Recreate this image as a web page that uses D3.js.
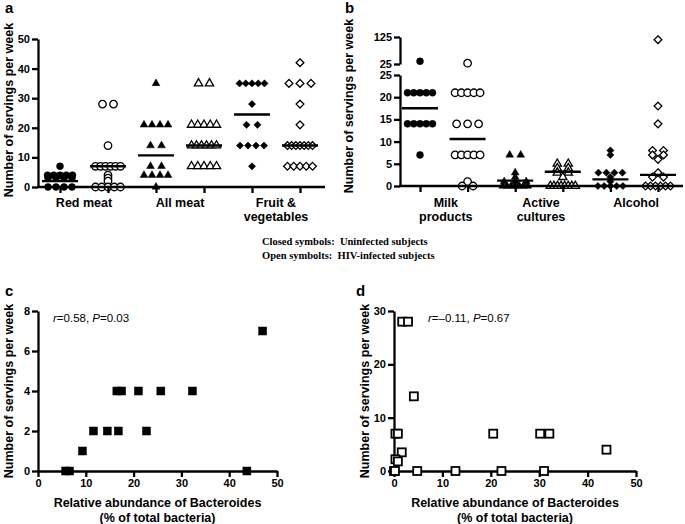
<!DOCTYPE html>
<html><head><meta charset="utf-8">
<script src="https://cdn.jsdelivr.net/npm/d3@7"></script>
<style>
body{margin:0;background:#fff;}
svg{display:block;font-family:"Liberation Sans",Arial,sans-serif;}
.tick text{font-weight:bold;font-size:11px;fill:#000;}
</style></head>
<body><svg id="c" width="685" height="524"></svg>
<script>
// ---------- DATA ----------
// Panel a
const aGroups = ["redU","redH","allU","allH","fvU","fvH"];
const aCategories = [["Red meat"],["All meat"],["Fruit &","vegetables"]];
const redMeatU = [7,4,4,4,4,4,3,3,3,3,0,0,0,0];
const redMeatH = [28,28,14,7,7,7,7,7,7,4,3,2,0,0,0,0,0];
const allMeatU = [35,21,21,21,21,14,14,7,7,4,4,4,4,0];
const allMeatH = [35,35,21,21,21,21,21,14,14,14,14,14,14,7,7,7,7,7];
const fruitVegU = [35,35,35,35,35,28,21,21,14,14,14,14,7];
const fruitVegH = [42,35,35,35,28,21,14,14,14,14,14,14,14,7,7,7,7,7];
const aMeans = [2,7,10.7,14,24.5,14];
const aTicks = [0,10,20,30,40,50];
// Panel b
const bGroups = ["milkU","milkH","actU","actH","alcU","alcH"];
const bCategories = [["Milk","products"],["Active","cultures"],["Alcohol"]];
const milkU = [35,21,21,21,21,21,14,14,14,14,14,7];
const milkH = [28,21,21,21,21,21,14,14,14,7,7,7,7,7,1,0,0];
const activeU = [7,7,3,2,1,1,1,0,0,0,0,0,0,0];
const activeH = [5,5,4,4,3,3,2,0,0,0,0,0,0,0,0];
const alcoholU = [8,7,3,3,3,3,2,1,0,0,0,0,0];
const alcoholH = [115,18,14,8,8,7,7,6,3,2,2,0,0,0,0,0,0];
const bMeans = [17.5,10.6,1.2,3.2,1.5,2.5];
const bTicksLow = [0,5,10,15,20,25];
const bTicksHigh = [25,125];
// Panel c (uninfected)
const cBacteroides = [5.8,6.6,9.3,11.6,14.5,16.8,16.5,17.5,21,22.7,25.7,32.3,43.7,47];
const cServings =    [0,  0,  1,  2,   2,   2,   4,   4,   4, 2,   4,   4,   0,   7];
// Panel d (HIV-infected)
const dBacteroides = [1.7,2.9,4.1,0.3,0.8,1.6,0.3,0.8,0,0.2,4.8,12.7,22.2,31,20.5,30.2,32.1,43.9];
const dServings =    [28, 28, 14, 7,  7,  3.5,2.2,1.8,0,0,  0,  0,   0,   0, 7,   7,   7,   4];
const cTicksX = [0,10,20,30,40,50], cTicksY = [0,2,4,6,8];
const dTicksX = [0,10,20,30,40,50], dTicksY = [0,10,20,30];

// ---------- DRAW ----------
const svg = d3.select("#c");
svg.append("rect").attr("width",685).attr("height",524).attr("fill","#fff");
const AX = 2.3;

const diamond = {draw(ctx,size){const r=Math.sqrt(size/2);ctx.moveTo(0,-r);ctx.lineTo(r,0);ctx.lineTo(0,r);ctx.lineTo(-r,0);ctx.closePath();}};
const shapes = {
  circleF:{type:d3.symbolCircle,size:38,fill:"#000"},
  circleO:{type:d3.symbolCircle,size:44,fill:"#fff"},
  triF:{type:d3.symbolTriangle,size:26,fill:"#000"},
  triO:{type:d3.symbolTriangle,size:30,fill:"#fff"},
  diaF:{type:diamond,size:26,fill:"#000"},
  diaO:{type:diamond,size:30,fill:"#fff"}
};

function spread(values, cx){
  const out=[];
  for(const [v,arr] of d3.group(values,v=>v)){
    const n=arr.length;
    const sp = n<=3 ? 11 : Math.min(8, 25/(n-1));
    arr.forEach((_,i)=>out.push({v, x: cx+(i-(n-1)/2)*sp}));
  }
  return out;
}
function drawGroup(g, values, cx, yf, shape){
  const s=shapes[shape];
  g.selectAll(null).data(spread(values,cx)).enter().append("path")
    .attr("d", d3.symbol().type(s.type).size(s.size)())
    .attr("transform", d=>`translate(${d.x},${yf(d.v)})`)
    .attr("fill", s.fill).attr("stroke","#000").attr("stroke-width", s.fill==="#fff"?1.3:0.5);
}
function styleAxis(sel){
  sel.selectAll("path.domain").attr("stroke","#000").attr("stroke-width",AX);
  sel.selectAll(".tick line").attr("stroke","#000").attr("stroke-width",AX);
}
function yTitle(x,y,txt){
  svg.append("text").attr("transform",`translate(${x},${y}) rotate(-90)`).attr("text-anchor","middle")
    .attr("font-weight","bold").attr("font-size","12.5px").text(txt);
}
function panelLabel(x,y,t){
  svg.append("text").attr("x",x).attr("y",y).attr("font-weight","bold").attr("font-size","15px").text(t);
}
function catLabels(centers, cats){
  cats.forEach((lines,i)=>{
    lines.forEach((l,j)=>svg.append("text").attr("x",centers[i]).attr("y",207+j*13.5)
      .attr("text-anchor","middle").attr("font-weight","bold").attr("font-size","12.5px").text(l));
  });
}

// ---- Panel a ----
{
  const y = d3.scaleLinear().domain([0,50]).range([187,39]);
  const x = d3.scalePoint().domain(aGroups).range([60,300]);
  const g = svg.append("g");
  const ya = svg.append("g").attr("transform","translate(38,0)")
    .call(d3.axisLeft(y).tickValues(aTicks).tickSize(6).tickSizeOuter(0).tickPadding(2));
  styleAxis(ya);
  svg.append("line").attr("x1",37).attr("x2",325).attr("y1",187).attr("y2",187).attr("stroke","#000").attr("stroke-width",AX);
  const xa = svg.append("g").attr("transform","translate(0,187)")
    .call(d3.axisBottom(x).tickSize(6).tickFormat(""));
  xa.select(".domain").remove(); styleAxis(xa);
  const sets=[redMeatU,redMeatH,allMeatU,allMeatH,fruitVegU,fruitVegH];
  const sh=["circleF","circleO","triF","triO","diaF","diaO"];
  sets.forEach((s,i)=>drawGroup(g,s,x(aGroups[i]),y,sh[i]));
  g.selectAll(null).data(aMeans).enter().append("line")
    .attr("x1",(d,i)=>x(aGroups[i])-18).attr("x2",(d,i)=>x(aGroups[i])+18)
    .attr("y1",d=>y(d)).attr("y2",d=>y(d)).attr("stroke","#000").attr("stroke-width",2.4);
  catLabels([0,2,4].map(i=>(x(aGroups[i])+x(aGroups[i+1]))/2), aCategories);
  yTitle(13,110,"Number of servings per week");
  panelLabel(5,13,"a");
}
// ---- Panel b ----
{
  const yl = d3.scaleLinear().domain([0,25]).range([186,75]);
  const yh = d3.scaleLinear().domain([25,125]).range([64,37]);
  const yf = v => v>25 ? yh(v) : yl(v);
  const x = d3.scalePoint().domain(bGroups).range([420,658]);
  const g = svg.append("g");
  const a1 = svg.append("g").attr("transform","translate(400,0)")
    .call(d3.axisLeft(yl).tickValues(bTicksLow).tickSize(6).tickSizeOuter(0).tickPadding(2));
  styleAxis(a1);
  const a2 = svg.append("g").attr("transform","translate(400,0)")
    .call(d3.axisLeft(yh).tickValues(bTicksHigh).tickSize(6).tickSizeOuter(0).tickPadding(2));
  styleAxis(a2);
  svg.append("line").attr("x1",399).attr("x2",683).attr("y1",186).attr("y2",186).attr("stroke","#000").attr("stroke-width",AX);
  const xa = svg.append("g").attr("transform","translate(0,186)")
    .call(d3.axisBottom(x).tickSize(6).tickFormat(""));
  xa.select(".domain").remove(); styleAxis(xa);
  const sets=[milkU,milkH,activeU,activeH,alcoholU,alcoholH];
  const sh=["circleF","circleO","triF","triO","diaF","diaO"];
  sets.forEach((s,i)=>drawGroup(g,s,x(bGroups[i]),yf,sh[i]));
  g.selectAll(null).data(bMeans).enter().append("line")
    .attr("x1",(d,i)=>x(bGroups[i])-18).attr("x2",(d,i)=>x(bGroups[i])+18)
    .attr("y1",d=>yf(d)).attr("y2",d=>yf(d)).attr("stroke","#000").attr("stroke-width",2.4);
  catLabels([0,2,4].map(i=>(x(bGroups[i])+x(bGroups[i+1]))/2+2), bCategories);
  yTitle(353,106,"Number of servings per week");
  panelLabel(345,13,"b");
}
// ---- Legend ----
svg.append("text").attr("x",262).attr("y",245).attr("font-family","'Liberation Serif','Times New Roman',serif")
  .attr("font-weight","bold").attr("font-size","10.5px").attr("xml:space","preserve").text("Closed symbols:  Uninfected subjects");
svg.append("text").attr("x",262).attr("y",259).attr("font-family","'Liberation Serif','Times New Roman',serif")
  .attr("font-weight","bold").attr("font-size","10.5px").attr("xml:space","preserve").text("Open symbolts:  HIV-infected subjects");

// ---- Scatter panels ----
function scatterPanel(opt){
  const x = d3.scaleLinear().domain([0,50]).range([opt.x0,opt.x1]);
  const y = d3.scaleLinear().domain(opt.yDom).range([471,311]);
  const ya = svg.append("g").attr("transform",`translate(${opt.x0},0)`)
    .call(d3.axisLeft(y).tickValues(opt.yt).tickSize(6).tickSizeOuter(0).tickPadding(2));
  styleAxis(ya);
  const xa = svg.append("g").attr("transform","translate(0,471)")
    .call(d3.axisBottom(x).tickValues(opt.xt).tickSize(6).tickSizeOuter(0).tickPadding(2));
  styleAxis(xa);
  svg.append("g").selectAll("rect").data(opt.xs.map((v,i)=>({x:v,y:opt.ys[i]}))).enter().append("rect")
    .attr("x",d=>x(d.x)-4).attr("y",d=>y(d.y)-4).attr("width",8).attr("height",8)
    .attr("fill",opt.open?"#fff":"#000").attr("stroke","#000").attr("stroke-width",opt.open?1.8:0.5);
  const cx=(opt.x0+opt.x1)/2;
  svg.append("text").attr("x",cx).attr("y",507).attr("text-anchor","middle").attr("font-weight","bold").attr("font-size","12.5px").text("Relative abundance of Bacteroides");
  svg.append("text").attr("x",cx).attr("y",522).attr("text-anchor","middle").attr("font-weight","bold").attr("font-size","12.5px").text("(% of total bacteria)");
  yTitle(opt.x0-25,391,"Number of servings per week");
  const t = svg.append("text").attr("x",opt.ax).attr("y",322).attr("font-size","11.5px");
  t.append("tspan").attr("font-style","italic").text("r");
  t.append("tspan").text(opt.r+", ");
  t.append("tspan").attr("font-style","italic").text("P");
  t.append("tspan").text(opt.p);
}
scatterPanel({x0:38,x1:277,yDom:[0,8],yt:cTicksY,xt:cTicksX,xs:cBacteroides,ys:cServings,open:false,ax:53,r:"=0.58",p:"=0.03"});
scatterPanel({x0:394,x1:636,yDom:[0,30],yt:dTicksY,xt:dTicksX,xs:dBacteroides,ys:dServings,open:true,ax:428,r:"=\u20130.11",p:"=0.67"});
panelLabel(5,296,"c");
panelLabel(356,296,"d");
</script></body></html>
